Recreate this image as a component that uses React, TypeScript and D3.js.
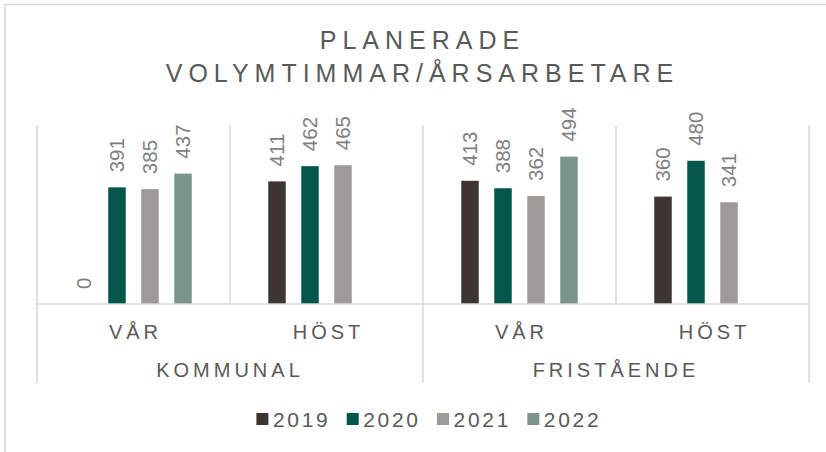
import React from 'react';
import * as d3 from 'd3';

// chart values
const groups = ['KOMMUNAL', 'FRISTÅENDE'];
const seasons = ['VÅR', 'HÖST'];
const years = ['2019', '2020', '2021', '2022'];
// one row per (group, season), one column per year; null = no bar
const values: (number | null)[][] = [
  [0, 391, 385, 437],
  [411, 462, 465, null],
  [413, 388, 362, 494],
  [360, 480, 341, null],
];
const colors = ['#3d3532', '#02574a', '#9e9a98', '#7b9588'];
const titleLines = ['PLANERADE', 'VOLYMTIMMAR/ÅRSARBETARE'];

const W = 826;
const H = 452;
const FONT = '"Liberation Sans", Arial, sans-serif';
const GRID = '#d9d9d9';

const App: React.FC = () => {
  const plot = { left: 37, right: 809, top: 125, bottom: 304 };
  const axisBottom = 383;

  const cats = groups.flatMap((g) => seasons.map((s) => `${g}|${s}`));
  const x = d3.scaleBand<string>().domain(cats).range([plot.left, plot.right]);
  const xGroup = d3.scaleBand<string>().domain(groups).range([plot.left, plot.right]);
  const inner = d3
    .scaleBand<string>()
    .domain(years)
    .range([-66, 66])
    .paddingInner(0.47)
    .paddingOuter(0.235);
  const y = d3.scaleLinear().domain([0, 600]).range([plot.bottom, plot.top]);

  const legendStep = 90.3;
  const legendX0 = 427.5 - (legendStep * years.length - 19) / 2;

  return (
    <svg
      width={W}
      height={H}
      style={{ position: 'absolute', left: 0, top: 0, display: 'block', background: '#fff' }}
      fontFamily={FONT}
    >
      {/* chart frame */}
      <rect x={5} y={4.5} width={830} height={460} fill="#fff" stroke={GRID} strokeWidth={1.5} />

      {/* title */}
      {titleLines.map((t, i) => (
        <text
          key={t}
          x={419.5}
          y={48.5 + i * 33.5}
          dx={3}
          textAnchor="middle"
          fontSize={25}
          letterSpacing={6}
          fill="#595959"
        >
          {t}
        </text>
      ))}

      {/* vertical separators inside plot */}
      {cats.map((c) => (
        <line key={c} x1={x(c)!} x2={x(c)!} y1={plot.top} y2={plot.bottom} stroke={GRID} strokeWidth={1.5} />
      ))}
      <line x1={plot.right} x2={plot.right} y1={plot.top} y2={plot.bottom} stroke={GRID} strokeWidth={1.5} />

      {/* bars + labels */}
      {cats.map((c, ci) =>
        years.map((yr, yi) => {
          const v = values[ci][yi];
          if (v === null) return null;
          const cx = x(c)! + x.bandwidth() / 2;
          const bx = cx + inner(yr)!;
          const mid = bx + inner.bandwidth() / 2;
          return (
            <g key={`${c}-${yr}`}>
              {v > 0 && (
                <rect x={bx} y={y(v)} width={inner.bandwidth()} height={y(0) - y(v)} fill={colors[yi]} />
              )}
              <text
                transform={`translate(${mid},${y(v) - 15}) rotate(-90)`}
                dy="0.35em"
                textAnchor="start"
                fontSize={20.5}
                fill="#808080"
              >
                {v}
              </text>
            </g>
          );
        })
      )}

      {/* category axis */}
      <line x1={plot.left} x2={plot.right} y1={plot.bottom} y2={plot.bottom} stroke={GRID} strokeWidth={1.5} />
      {[...groups.map((g) => xGroup(g)!), plot.right].map((gx) => (
        <line key={gx} x1={gx} x2={gx} y1={plot.bottom} y2={axisBottom} stroke={GRID} strokeWidth={1.5} />
      ))}
      {cats.map((c) => {
        const s = c.split('|')[1];
        return (
          <text
            key={`l-${c}`}
            x={x(c)! + x.bandwidth() / 2}
            dx={2}
            y={338.5}
            textAnchor="middle"
            fontSize={20}
            letterSpacing={4}
            fill="#595959"
          >
            {s}
          </text>
        );
      })}
      {groups.map((g) => (
        <text
          key={`g-${g}`}
          x={xGroup(g)! + xGroup.bandwidth() / 2}
          y={377}
          textAnchor="middle"
          fontSize={20}
          letterSpacing={4}
          fill="#595959"
        >
          {g}
        </text>
      ))}

      {/* legend */}
      {years.map((yr, i) => {
        const lx = legendX0 + i * legendStep;
        return (
          <g key={`lg-${yr}`}>
            <rect x={lx} y={413} width={12} height={12} fill={colors[i]} />
            <text x={lx + 16.5} y={427} fontSize={21} letterSpacing={2.7} fill="#595959">
              {yr}
            </text>
          </g>
        );
      })}
    </svg>
  );
};

export default App;
